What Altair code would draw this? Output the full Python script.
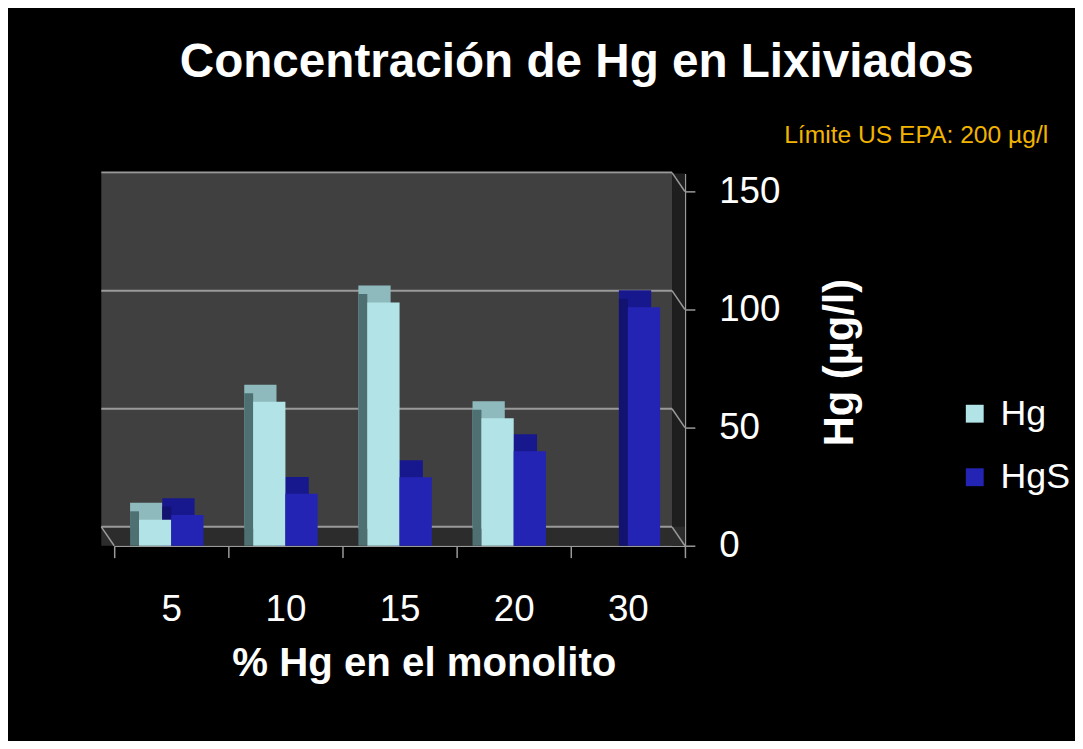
import altair as alt
import pandas as pd

categories = ["5", "10", "15", "20", "30"]
hg_values = [11, 61, 103, 54, None]
hgs_values = [13, 22, 29, 40, 101]
series_names = ["Hg", "HgS"]
y_ticks = [0, 50, 100, 150]

TITLE = "Concentración de Hg en Lixiviados"
NOTE = "Límite US EPA: 200 µg/l"
X_TITLE = "% Hg en el monolito"
Y_TITLE = "Hg (µg/l)"

rows = []
for c, a, b in zip(categories, hg_values, hgs_values):
    if a is not None:
        rows.append({"cat": c, "series": "Hg", "value": a})
    if b is not None:
        rows.append({"cat": c, "series": "HgS", "value": b})
df = pd.DataFrame(rows)
grid_df = pd.DataFrame({"value": y_ticks})
one = pd.DataFrame({"k": [0]})

W, H = 575, 375
DX, DY = -9, -17
BW = 32.5
FONT = "Liberation Sans"
GRAY = "#9a9a9a"

x_axis = alt.Axis(title=X_TITLE, tickBand="extent", labelFontSize=37,
                  labelColor="white", labelFont=FONT, labelAngle=0,
                  tickColor=GRAY, tickSize=12, domainColor=GRAY,
                  domainWidth=1.5, tickWidth=1.5,
                  labelPadding=34, titleFont=FONT, titleFontSize=40.5,
                  titleFontWeight="bold", titleColor="white",
                  titleX=312, titleY=131, titleBaseline="alphabetic",
                  titleAlign="center")
y_axis = alt.Axis(orient="right", values=y_ticks, title=Y_TITLE, grid=False,
                  labelFontSize=37, labelColor="white", labelFont=FONT,
                  tickColor=GRAY, tickSize=10, domainColor=GRAY,
                  domainWidth=1.5, tickWidth=1.5, labelPadding=24,
                  titleFont=FONT, titleFontSize=42, titleFontWeight="bold",
                  titleColor="white", titleAngle=270, titleX=156,
                  titleY=190, titleBaseline="middle", titleAlign="center")
x_scale = alt.Scale(paddingInner=0, paddingOuter=0)
y_scale = alt.Scale(domain=[0, 157.6], nice=False, zero=True)

x_enc = alt.X("cat:N", sort=categories, scale=x_scale, axis=x_axis)
y_enc = alt.Y("value:Q", scale=y_scale, axis=y_axis)

# decorative 3D frame
back_wall = alt.Chart(one).mark_rect(color="#404040").encode(
    x=alt.value(-13), x2=alt.value(W - 13), y=alt.value(0), y2=alt.value(H - 19))
side_wall = alt.Chart(one).mark_rect(color="#1e1e1e").encode(
    x=alt.value(W - 13), x2=alt.value(W), y=alt.value(0), y2=alt.value(H))
floor = alt.Chart(one).mark_rect(color="#2c2c2c").encode(
    x=alt.value(-13), x2=alt.value(W), y=alt.value(H - 19), y2=alt.value(H))
grid = alt.Chart(grid_df).mark_rule(color=GRAY, strokeWidth=2, yOffset=-19).encode(
    y=y_enc, x=alt.value(-13), x2=alt.value(W - 13))
diag = alt.Chart(grid_df).mark_rule(color=GRAY, strokeWidth=1.5, yOffset=-19, y2Offset=0).encode(
    y=y_enc, y2=alt.Y2("value"), x=alt.value(W - 13), x2=alt.value(W))
floor_diag = alt.Chart(one).mark_rule(color=GRAY, strokeWidth=1.5).encode(
    x=alt.value(-13), y=alt.value(H - 19), x2=alt.value(0), y2=alt.value(H))

def box_layers(series, offset, top_col, side_col):
    base = alt.Chart(df).transform_filter(alt.datum.series == series)
    top = base.mark_bar(width=BW, xOffset=offset + DX, yOffset=DY, y2Offset=DY,
                        color=top_col).encode(x=x_enc, y=y_enc, y2=alt.datum(0))
    side = base.mark_bar(width=-DX, xOffset=offset - BW / 2 + DX / 2, yOffset=DY / 2,
                         color=side_col).encode(x=x_enc, y=y_enc, y2=alt.datum(0))
    return top, side

hg_top, hg_side = box_layers("Hg", -BW / 2, "#8fbabd", "#4e7073")
hgs_top, hgs_side = box_layers("HgS", BW / 2, "#18188e", "#121270")

color_enc = alt.Color("series:N",
                      scale=alt.Scale(domain=series_names, range=["#b2e3e6", "#2424b4"]),
                      legend=alt.Legend(title=None, orient="none", legendX=849, legendY=224,
                                        symbolType="square", symbolSize=324,
                                        symbolStrokeWidth=0, labelFontSize=36,
                                        labelFont=FONT, labelColor="white",
                                        labelOffset=8, rowPadding=28))

hg_front = alt.Chart(df).transform_filter(alt.datum.series == "Hg").mark_bar(
    width=BW, xOffset=-BW / 2).encode(x=x_enc, y=y_enc, y2=alt.datum(0), color=color_enc)
hgs_front = alt.Chart(df).transform_filter(alt.datum.series == "HgS").mark_bar(
    width=BW, xOffset=BW / 2).encode(x=x_enc, y=y_enc, y2=alt.datum(0), color=color_enc)

title_txt = alt.Chart(pd.DataFrame({"t": [TITLE]})).mark_text(
    font=FONT, fontSize=48, fontWeight="bold", color="white", align="center",
    baseline="alphabetic").encode(text="t:N", x=alt.value(466), y=alt.value(-97))
note_txt = alt.Chart(pd.DataFrame({"t": [NOTE]})).mark_text(
    font=FONT, fontSize=24.8, color="#f2b400", align="left",
    baseline="alphabetic").encode(text="t:N", x=alt.value(675), y=alt.value(-31))

chart = alt.layer(
    back_wall, side_wall, floor, grid, diag, floor_diag,
    hg_top, hg_side, hgs_top, hgs_side, hg_front, hgs_front,
    title_txt, note_txt,
).properties(
    width=W, height=H,
    background="black",
    padding={"left": 107, "top": 164, "right": 393, "bottom": 194},
    autosize=alt.AutoSizeParams(type="none"),
).configure_view(stroke=None, fill="black")

chart.save("out.html", embed_options={"renderer": "svg", "actions": False})
